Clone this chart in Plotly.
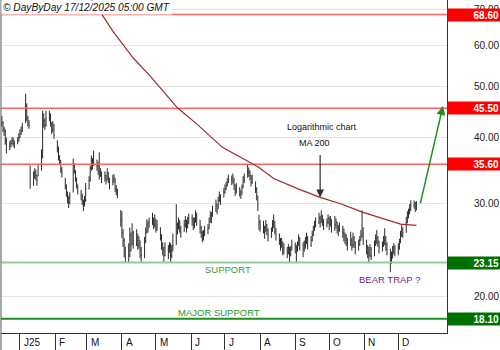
import math
import pandas as pd
import plotly.graph_objects as go

FONT = "Liberation Sans, Arial, sans-serif"

# Daily bars, Mon 16 Dec 2024 -> Wed 17 Dec 2025, one line per trading week
highs = [
    44.0, 43.0, 42.0, 41.5, 40.0,
    39.4, 39.6, 40.1, 40.0, 39.5,
    40.1, 40.8, 41.5, 42.0, 42.7,
    48.5, 46.5, 44.0, 43.2, 35.4,
    34.5, 35.0, 34.8, 34.0, 35.5,
    38.0, 45.0, 44.5, 43.5, 45.0,
    45.0, 44.5, 42.8, 43.0, 42.5,
    39.5, 38.5, 37.0, 36.3, 35.2,
    33.5, 32.6, 31.6, 31.0, 31.5,
    36.5, 35.8, 34.7, 33.6, 32.6,
    31.8, 31.3, 30.5, 31.0, 32.8,
    33.8, 35.4, 37.0, 36.6, 37.8,
    36.3, 36.0, 37.5, 35.0, 34.5,
    34.5, 34.0, 35.0, 34.4, 33.5,
    34.0, 34.1, 33.5, 32.5, 32.0,
    29.1, 29.0, 26.8, 25.8, 24.8,
    25.2, 27.0, 26.4, 27.5, 26.6,
    26.8, 26.3, 26.0, 25.5, 24.8,
    25.9, 27.0, 28.0, 27.8, 28.2,
    28.8, 28.2, 28.6, 28.0, 27.9,
    27.0, 26.2, 25.3, 24.8, 25.3,
    25.0, 25.3, 25.2, 25.0, 26.3,
    29.9, 27.6, 28.2, 27.9, 27.2,
    27.9, 28.4, 27.9, 28.3, 28.7,
    28.6, 28.2, 28.2, 29.1, 28.8,
    27.9, 27.2, 26.6, 26.7, 27.2,
    27.4, 28.2, 29.0, 28.9, 29.7,
    30.5, 30.0, 30.9, 31.6, 31.2,
    32.1, 32.6, 33.0, 33.5, 34.0,
    33.9, 34.2, 33.5, 32.6, 32.8,
    32.2, 31.8, 32.6, 33.8, 34.2,
    35.5, 35.1, 34.7, 34.0, 34.0,
    33.0, 32.2, 31.0, 28.5, 27.9,
    27.8, 27.2, 27.9, 27.4, 26.9,
    27.0, 27.9, 28.6, 27.8, 26.9,
    26.3, 25.8, 25.8, 25.4, 25.2,
    24.8, 25.1, 24.8, 24.9, 25.6,
    25.3, 25.0, 25.4, 26.2, 25.9,
    25.3, 25.5, 25.9, 26.4, 26.0,
    26.0, 26.6, 27.2, 27.8, 28.2,
    28.8, 28.4, 29.1, 28.5, 28.0,
    28.1, 28.6, 28.3, 28.4, 28.0,
    28.4, 28.1, 27.7, 27.3, 27.6,
    27.2, 26.9, 26.4, 26.2, 25.8,
    26.5, 25.8, 26.4, 26.0, 25.4,
    25.6, 26.0, 26.7, 29.1, 27.0,
    25.6, 25.0, 24.8, 25.1, 24.8,
    25.5, 26.2, 26.7, 26.0, 25.5,
    25.4, 26.0, 26.9, 26.0, 25.3,
    24.6, 24.3, 24.9, 25.2, 25.0,
    25.2, 25.7, 26.6, 27.3, 27.0,
    28.3, 29.0, 29.3, 29.9, 30.4,
    30.4, 30.2, 30.3,
]

lows = [
    42.0, 41.0, 40.3, 38.8, 37.3,
    37.9, 38.3, 38.8, 38.5, 38.2,
    38.9, 39.3, 39.9, 40.5, 41.0,
    42.7, 43.0, 42.0, 41.6, 32.0,
    32.4, 33.5, 33.2, 32.4, 33.8,
    34.6, 36.5, 41.8, 41.4, 42.0,
    43.0, 42.0, 40.6, 41.0, 39.8,
    37.5, 36.2, 35.5, 34.3, 33.6,
    31.9, 30.9, 30.0, 29.4, 29.9,
    31.5, 34.2, 33.0, 32.0, 31.2,
    30.4, 29.8, 29.0, 29.6, 30.2,
    31.9, 33.0, 34.6, 34.8, 35.4,
    34.6, 34.0, 33.3, 33.7, 32.8,
    33.0, 32.6, 33.2, 32.8, 31.9,
    32.5, 32.8, 31.5, 31.1, 30.7,
    27.1, 25.8, 24.8, 23.7, 23.2,
    23.2, 23.7, 24.3, 25.0, 24.6,
    24.9, 24.5, 24.6, 23.6, 23.2,
    23.6, 25.2, 26.3, 26.4, 27.0,
    27.3, 26.8, 27.0, 26.4, 26.6,
    25.5, 24.5, 23.9, 23.2, 23.8,
    23.5, 24.2, 23.2, 23.6, 24.3,
    25.0, 26.2, 26.8, 26.4, 25.8,
    26.5, 27.0, 26.4, 26.9, 27.4,
    27.2, 26.7, 26.9, 27.6, 27.2,
    26.3, 25.8, 25.3, 25.5, 26.0,
    26.2, 26.8, 27.6, 27.5, 28.3,
    28.9, 28.6, 29.3, 30.2, 29.8,
    30.8, 31.3, 31.8, 32.3, 32.8,
    32.5, 32.7, 31.8, 31.0, 31.3,
    30.9, 30.6, 31.2, 32.1, 32.8,
    33.6, 33.7, 33.2, 32.3, 32.7,
    31.4, 30.4, 29.0, 26.7, 26.5,
    26.3, 25.7, 26.5, 26.1, 25.4,
    25.8, 26.5, 26.9, 26.2, 25.5,
    25.0, 24.4, 24.7, 23.9, 24.0,
    23.6, 24.0, 23.2, 23.8, 24.4,
    24.1, 23.2, 24.3, 24.9, 24.4,
    23.7, 24.3, 24.6, 25.1, 24.5,
    24.8, 25.4, 26.0, 26.6, 27.0,
    27.4, 27.0, 27.6, 27.2, 26.7,
    27.0, 27.4, 26.7, 27.1, 26.4,
    26.6, 26.9, 26.3, 26.0, 26.5,
    25.8, 25.4, 25.1, 24.9, 24.4,
    24.9, 24.4, 24.7, 24.7, 24.0,
    24.4, 24.9, 25.5, 25.8, 25.0,
    24.0, 23.6, 23.2, 23.7, 23.4,
    23.8, 24.9, 25.1, 24.8, 24.1,
    24.3, 24.8, 25.0, 24.4, 23.9,
    22.2, 23.0, 23.6, 24.0, 23.8,
    23.9, 24.5, 25.2, 25.9, 25.8,
    26.4, 27.5, 28.1, 28.6, 29.0,
    29.3, 28.9, 29.1,
]

closes = [
    42.7, 41.6, 41.2, 39.5, 38.0,
    38.6, 39.0, 39.5, 39.1, 38.8,
    39.5, 40.0, 40.7, 41.2, 41.8,
    46.0, 43.5, 42.7, 42.2, 33.9,
    33.5, 34.3, 33.9, 33.2, 34.9,
    37.0, 42.2, 43.1, 42.2, 43.5,
    44.0, 42.7, 41.2, 42.2, 40.4,
    38.1, 37.0, 36.2, 34.9, 34.3,
    32.5, 31.5, 30.7, 30.1, 31.1,
    35.4, 34.6, 33.5, 32.5, 31.8,
    31.1, 30.4, 29.8, 30.4, 32.0,
    33.2, 34.9, 36.2, 35.4, 36.5,
    35.4, 34.6, 33.9, 34.3, 33.5,
    33.9, 33.2, 34.3, 33.5, 32.5,
    33.2, 33.5, 32.0, 31.8, 31.3,
    27.9, 26.4, 25.5, 24.5, 23.9,
    24.5, 26.1, 25.0, 26.4, 25.5,
    25.8, 25.0, 25.5, 24.5, 23.9,
    25.5, 26.4, 27.3, 26.9, 27.6,
    27.9, 27.3, 28.1, 26.9, 27.3,
    26.1, 25.0, 24.5, 23.9, 24.7,
    24.2, 25.0, 23.9, 24.7, 25.5,
    27.3, 26.7, 27.6, 26.9, 26.4,
    27.3, 27.9, 26.9, 27.6, 28.1,
    27.9, 27.3, 27.6, 28.5, 27.9,
    26.9, 26.4, 25.8, 26.1, 26.7,
    26.9, 27.6, 28.5, 28.1, 29.1,
    29.8, 29.1, 30.4, 31.1, 30.4,
    31.5, 32.0, 32.5, 32.9, 33.5,
    33.2, 33.5, 32.5, 31.8, 32.0,
    31.5, 31.1, 32.0, 33.2, 33.5,
    34.7, 34.3, 33.9, 32.9, 33.5,
    32.0, 31.1, 29.8, 27.6, 27.3,
    26.9, 26.4, 27.3, 26.7, 26.1,
    26.7, 27.3, 27.6, 26.9, 26.1,
    25.5, 25.0, 25.3, 24.5, 24.7,
    24.2, 24.7, 23.9, 24.5, 25.0,
    24.7, 24.2, 25.0, 25.5, 25.0,
    24.5, 25.0, 25.3, 25.8, 25.0,
    25.5, 26.1, 26.7, 27.3, 27.6,
    28.1, 27.6, 28.5, 27.9, 27.3,
    27.6, 28.1, 27.3, 27.9, 26.9,
    27.3, 27.6, 26.9, 26.7, 27.1,
    26.4, 26.1, 25.8, 25.5, 25.0,
    25.5, 25.0, 25.8, 25.3, 24.7,
    25.0, 25.5, 26.1, 26.9, 25.5,
    24.7, 24.2, 23.9, 24.5, 23.9,
    25.0, 25.5, 25.8, 25.3, 24.7,
    25.0, 25.5, 25.8, 25.0, 24.5,
    23.2, 23.6, 24.2, 24.7, 24.5,
    24.7, 25.3, 26.1, 26.7, 26.4,
    27.6, 28.5, 28.8, 29.4, 29.8,
    30.1, 29.6, 29.8,
]

# 200-day moving average
ma_dates = ["2025-02-15", "2025-03-14", "2025-03-24", "2025-04-11", "2025-04-26",
            "2025-05-07", "2025-05-20", "2025-06-06", "2025-06-29", "2025-07-20",
            "2025-07-31", "2025-08-13", "2025-09-03", "2025-09-23", "2025-10-11",
            "2025-10-31", "2025-11-21", "2025-12-03", "2025-12-17"]
ma_values = [82.8, 68.8, 63.8, 56.7, 52.4,
             49.1, 45.6, 42.5, 38.3, 36.2,
             35.1, 33.45, 32.0, 30.8, 29.95,
             28.85, 27.95, 27.4, 27.25]

# horizontal levels
resistance_levels = [68.60, 45.50, 35.60]
support_level = 23.15
major_support_level = 18.10

month_starts = ["2025-01-01", "2025-02-01", "2025-03-01", "2025-04-01", "2025-05-01",
                "2025-06-01", "2025-07-01", "2025-08-01", "2025-09-01", "2025-10-01",
                "2025-11-01", "2025-12-01"]
month_labels = ["J25", "F", "M", "A", "M", "J", "J", "A", "S", "O", "N", "D"]
price_ticks = [20, 30, 40, 50, 60, 70]

dates = pd.bdate_range("2024-12-16", "2025-12-17")
assert len(dates) == len(highs) == len(lows) == len(closes)

# each bar opens at the previous close, kept inside the bar's own range
opens = [closes[0]]
for i in range(1, len(closes)):
    opens.append(min(max(closes[i - 1], lows[i]), highs[i]))

x_start, x_end = "2024-12-15 06:00", "2026-01-13"

fig = go.Figure()

RED_LINE, RED_BOX = "#ff6262", "#ff0000"
SUP_LINE, MAJ_LINE, GREEN_BOX = "#8fcf8f", "#1f8f1f", "#007000"

for lv in resistance_levels:
    fig.add_trace(go.Scatter(x=[x_start, x_end], y=[lv, lv], mode="lines",
                             line=dict(color=RED_LINE, width=1.5), hoverinfo="skip"))
fig.add_trace(go.Scatter(x=[x_start, x_end], y=[support_level] * 2, mode="lines",
                         line=dict(color=SUP_LINE, width=2), hoverinfo="skip"))
fig.add_trace(go.Scatter(x=[x_start, x_end], y=[major_support_level] * 2, mode="lines",
                         line=dict(color=MAJ_LINE, width=2), hoverinfo="skip"))

fig.add_trace(go.Ohlc(
    x=dates, open=opens, high=highs, low=lows, close=closes,
    increasing=dict(line=dict(color="#2a2a2a", width=1)),
    decreasing=dict(line=dict(color="#2a2a2a", width=1)),
    tickwidth=0.35,
))

fig.add_trace(go.Scatter(x=ma_dates, y=ma_values, mode="lines",
                         line=dict(color="#a3282a", width=1.2),
                         hoverinfo="skip"))

annotations = []

# price boxes on the right
for lv, col in [(68.60, RED_BOX), (45.50, RED_BOX), (35.60, RED_BOX),
                (support_level, GREEN_BOX), (major_support_level, GREEN_BOX)]:
    annotations.append(dict(
        text=f"<b>{lv:.2f}</b>", xref="paper", x=1, xanchor="left",
        yref="y", y=math.log10(lv), yanchor="middle", showarrow=False,
        bgcolor=col, font=dict(color="white", size=10, family=FONT),
        width=50, height=10, align="right", borderpad=1,
    ))

# month labels
for d, lab in zip(month_starts, month_labels):
    annotations.append(dict(
        text=lab, xref="x", x=d, xanchor="left", xshift=2,
        yref="paper", y=0, yanchor="top", yshift=-2, showarrow=False,
        font=dict(color="#111", size=10, family=FONT),
    ))


def note(text, x, y, color, size):
    return dict(text=text, xref="paper", x=x, xanchor="center",
                yref="paper", y=y, yanchor="middle", showarrow=False,
                font=dict(color=color, size=size, family=FONT))


annotations += [
    dict(text="<i>© DayByDay 17/12/2025 05:00 GMT</i>", xref="paper", x=0, xanchor="left",
         yref="paper", y=1, yanchor="top", showarrow=False, bgcolor="white",
         font=dict(color="#111", size=10.2, family=FONT), borderpad=1),
    note("Logarithmic chart", 0.7197, 0.619, "#111", 9),
    note("MA 200", 0.704, 0.571, "#111", 9),
    dict(text="", xref="x", x="2025-09-23", yref="y", y=math.log10(30.8),
         ax=0, ay=-44, showarrow=True, arrowhead=2, arrowsize=1.3, arrowwidth=1.2,
         arrowcolor="#333"),
    note("SUPPORT", 0.510, 0.192, "#3a9a3a", 9.5),
    note("BEAR TRAP ?", 0.871, 0.162, "#6e1f7a", 9.5),
    note("MAJOR SUPPORT", 0.489, 0.063, "#2a9a2a", 9.5),
    dict(text="", xref="paper", x=0.991, yref="paper", y=0.682,
         ax=-23, ay=99, showarrow=True, arrowhead=2, arrowsize=1.2, arrowwidth=1.5,
         arrowcolor="#1f8f1f"),
]

fig.update_layout(
    width=500, height=350,
    margin=dict(l=1, r=53, t=0, b=17),
    plot_bgcolor="white", paper_bgcolor="white",
    showlegend=False,
    font=dict(family=FONT),
    annotations=annotations,
    shapes=[dict(type="line", xref="paper", yref="paper", x0=0, x1=0,
                 y0=-17 / 333, y1=1, line=dict(color="#555", width=1))],
    xaxis=dict(
        type="date", range=[x_start, x_end], showgrid=False, zeroline=False,
        showline=True, linecolor="#333", linewidth=1,
        tickvals=month_starts, ticks="outside", ticklen=17, tickcolor="#333",
        showticklabels=False, rangeslider=dict(visible=False),
    ),
    yaxis=dict(
        type="log", range=[math.log10(17.01), math.log10(73.1)], side="right",
        tickvals=price_ticks, ticktext=[f"{v:.2f}" for v in price_ticks],
        showgrid=True, gridcolor="#e4e4e4", gridwidth=1, zeroline=False,
        showline=True, linecolor="#333", linewidth=1, ticks="",
        tickfont=dict(size=10, color="#222", family=FONT), ticklabelstandoff=24,
    ),
)

fig.write_html("out.html")
